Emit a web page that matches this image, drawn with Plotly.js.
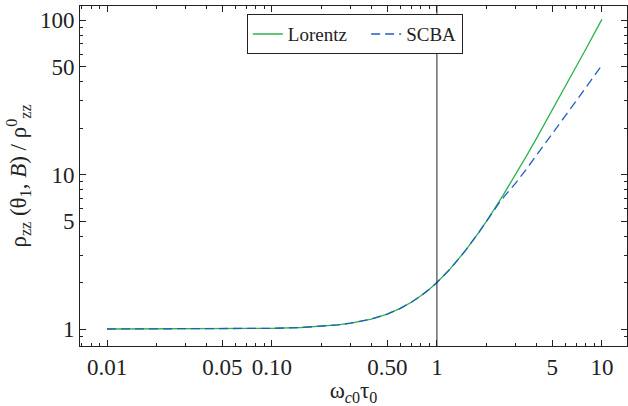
<!DOCTYPE html>
<html>
<head>
<meta charset="utf-8">
<script src="https://cdn.plot.ly/plotly-3.0.1.min.js"></script>
<style>html,body{margin:0;padding:0;background:#fff;}#chart{width:628px;height:406px;}</style>
</head>
<body>
<div id="chart"></div>
<script>
// omega_c0 * tau_0
const xLorentz = [0.01, 0.02, 0.03, 0.05, 0.07, 0.1, 0.15, 0.2, 0.25, 0.3, 0.4, 0.5, 0.6, 0.7, 0.8, 0.9, 1, 1.2, 1.5, 1.8, 2, 2.5, 3, 3.5, 4, 5, 6, 7, 8, 9, 10];
const yLorentz = [1.0001, 1.0004, 1.0009, 1.0025, 1.0049, 1.01, 1.0225, 1.04, 1.0625, 1.09, 1.16, 1.25, 1.36, 1.49, 1.64, 1.81, 2.0, 2.44, 3.25, 4.24, 5.0, 7.25, 10.0, 13.25, 17.0, 26.0, 37.0, 50.0, 65.0, 82.0, 101.0];
const xSCBA = [0.01, 0.02, 0.03, 0.05, 0.07, 0.1, 0.15, 0.2, 0.25, 0.3, 0.4, 0.5, 0.6, 0.7, 0.8, 0.9, 1, 1.2, 1.5, 1.8, 2, 2.2, 2.4, 2.6, 2.8, 3, 3.5, 4, 4.5, 5, 6, 7, 8, 9, 10];
const ySCBA = [1.0001, 1.0004, 1.0009, 1.0025, 1.0049, 1.01, 1.0225, 1.04, 1.0625, 1.09, 1.16, 1.25, 1.36, 1.49, 1.64, 1.81, 2.0, 2.44, 3.25, 4.24, 5.0, 5.82, 6.62, 7.35, 8.05, 8.8, 10.9, 13.2, 15.6, 18.3, 24.0, 30.0, 36.5, 43.5, 51.0];
const xTickVals = [0.01, 0.05, 0.1, 0.5, 1, 5, 10];
const xTickText = ["0.01", "0.05", "0.10", "0.50", "1", "5", "10"];
const yTickVals = [1, 5, 10, 50, 100];
const yTickText = ["1", "5", "10", "50", "100"];
const xMinor = [0.007, 0.008, 0.009, 0.02, 0.03, 0.04, 0.06, 0.07, 0.08, 0.09, 0.2, 0.3, 0.4, 0.6, 0.7, 0.8, 0.9, 2, 3, 4, 6, 7, 8, 9];
const yMinor = [0.9, 2, 3, 4, 6, 7, 8, 9, 20, 30, 40, 60, 70, 80, 90];
const seriesNames = ["Lorentz", "SCBA"];

const serif = "Liberation Serif";
const green = "#2db34c";
const blue = "#1f5fc0";
const pad = "\u00a0\u00a0\u00a0";

const traces = [
  {x: xLorentz, y: yLorentz, type: "scatter", mode: "lines", name: seriesNames[0] + pad,
   line: {color: green, width: 1.3}},
  {x: xSCBA, y: ySCBA, type: "scatter", mode: "lines", name: seriesNames[1],
   line: {color: blue, width: 1.3, dash: "9px,5px"}}
];

function axisBase() {
  return {
    type: "log", showgrid: false, zeroline: false,
    showline: true, linecolor: "#222", linewidth: 1, mirror: "allticks",
    ticks: "inside", ticklen: 6, tickwidth: 1, tickcolor: "#222",
    tickfont: {family: serif, size: 23, color: "#222"}
  };
}

const layout = {
  width: 628, height: 406,
  font: {family: serif, color: "#222", size: 23},
  margin: {l: 80, r: 1, t: 6, b: 60},
  paper_bgcolor: "#fff", plot_bgcolor: "#fff",
  showlegend: true,
  legend: {orientation: "h", x: 0.305, y: 0.976, xanchor: "left", yanchor: "top",
           bgcolor: "#fff", bordercolor: "#222", borderwidth: 1,
           font: {family: serif, size: 19, color: "#222"}},
  xaxis: Object.assign(axisBase(), {
    range: [Math.log10(0.00686), Math.log10(14.2)],
    tickmode: "array", tickvals: xTickVals, ticktext: xTickText,
    minor: {tickmode: "array", tickvals: xMinor, ticks: "inside", ticklen: 3, tickcolor: "#222", showgrid: false},
    title: {text: "ω<sub><i>c</i>0</sub>τ<sub>0</sub>", font: {family: serif, size: 23, color: "#222"}, standoff: 4}
  }),
  yaxis: Object.assign(axisBase(), {
    range: [-0.110, 2.091],
    tickmode: "array", tickvals: yTickVals, ticktext: yTickText,
    minor: {tickmode: "array", tickvals: yMinor, ticks: "inside", ticklen: 3, tickcolor: "#222", showgrid: false},
    title: {text: "ρ<sub>zz</sub> (θ<sub>1</sub>, <i>B</i>) / ρ<sup>0</sup><sub>zz</sub>", font: {family: serif, size: 23, color: "#222"}, standoff: 6}
  }),
  shapes: [{type: "line", xref: "x", yref: "paper", x0: 1, x1: 1, y0: 0, y1: 1,
            line: {color: "#222", width: 1}}]
};

Plotly.newPlot("chart", traces, layout, {displayModeBar: false, staticPlot: true});
</script>
</body>
</html>
